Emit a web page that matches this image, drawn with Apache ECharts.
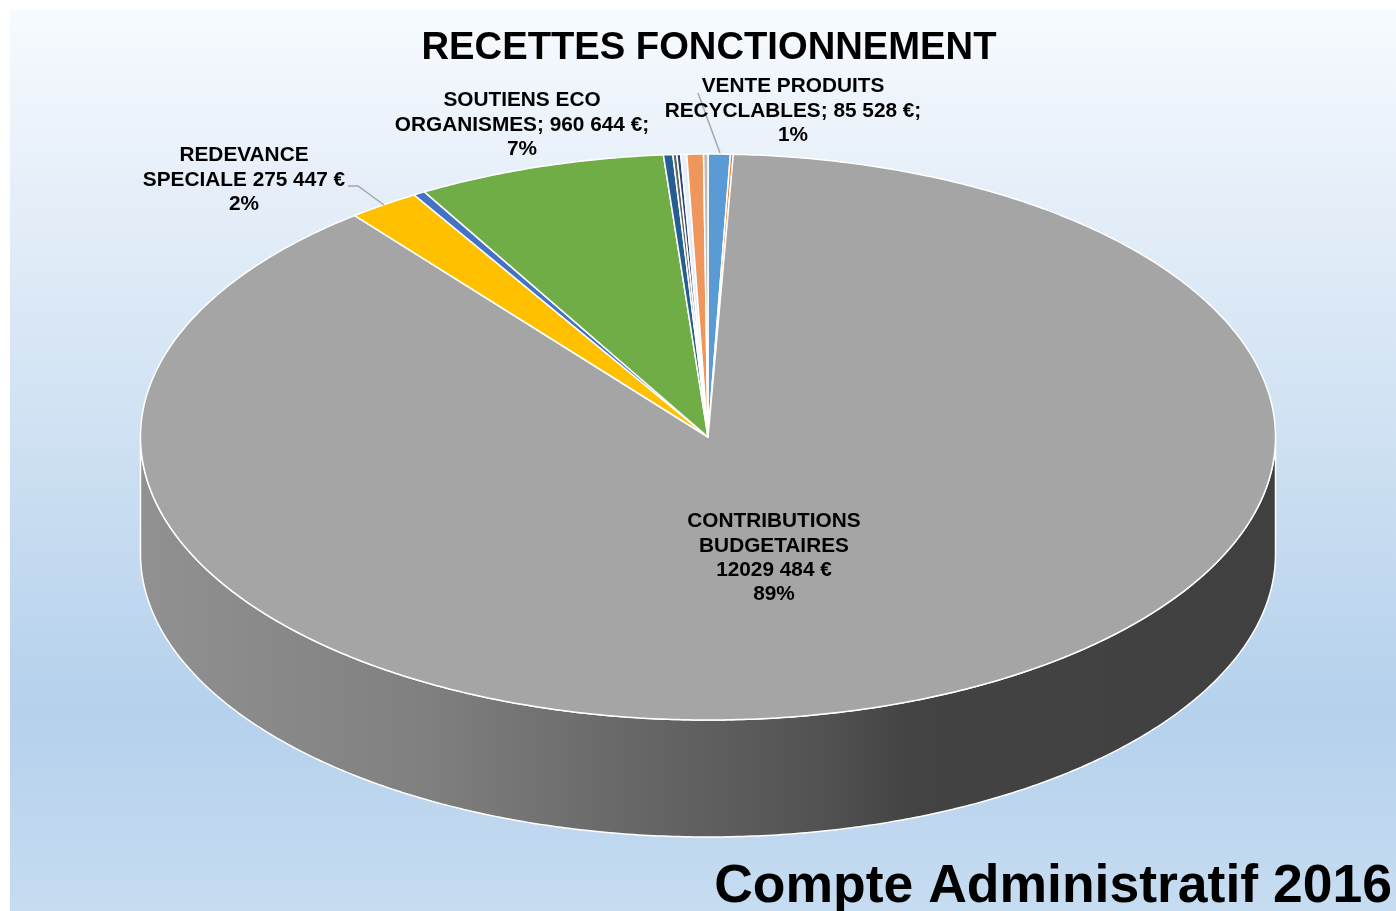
<!DOCTYPE html>
<html><head><meta charset="utf-8">
<style>html,body{margin:0;padding:0;background:#fff}#c{width:1396px;height:911px}</style>
<script src="https://cdn.jsdelivr.net/npm/echarts@6/dist/echarts.min.js"></script>
</head><body><div id="c"></div>
<script>
const titleText = 'RECETTES FONCTIONNEMENT';
const footerText = 'Compte Administratif 2016';
const categories = ['VENTE PRODUITS RECYCLABLES','AUTRES 1','CONTRIBUTIONS BUDGETAIRES','REDEVANCE SPECIALE','AUTRES 2','SOUTIENS ECO ORGANISMES','AUTRES 3','AUTRES 4','AUTRES 5','AUTRES 6','AUTRES 7','AUTRES 8'];
const values = [85528, 11000, 12029484, 275447, 46000, 960644, 36000, 15000, 15000, 23000, 64000, 17000];
const colors = ['#5b9bd5','#ed7d31','#a5a5a5','#ffc000','#4472c4','#70ad47','#255e91','#636363','#264478','#e6eef8','#ee965c','#bcbcbc'];
const labelVente = 'VENTE PRODUITS\nRECYCLABLES; 85 528 €;\n1%';
const labelSoutiens = 'SOUTIENS ECO\nORGANISMES; 960 644 €;\n7%';
const labelRedevance = 'REDEVANCE\nSPECIALE 275 447 €\n2%';
const labelContrib = 'CONTRIBUTIONS\nBUDGETAIRES\n12029 484 €\n89%';

const total = values.reduce((a,b)=>a+b,0);
let acc = 0;
const sliceData = values.map(v=>{const s=acc/total*360; acc+=v; return [s,acc/total*360,v];});
const DEPTH = 0.4134;
const rad = d=>d*Math.PI/180;
function arc(from,to){const n=Math.max(2,Math.ceil(Math.abs(to-from)*2));const p=[];for(let i=0;i<=n;i++){const t=rad(from+(to-from)*i/n);p.push([Math.sin(t),Math.cos(t)]);}return p;}

const chart = echarts.init(document.getElementById('c'),null,{renderer:'canvas'});
function label(text,x,y){return {type:'text',x:x,y:y,z:20,style:{text:text,fill:'#000',font:'bold 20.8px "Liberation Sans"',align:'center',verticalAlign:'top',lineHeight:24.3}};}
chart.setOption({
  animation:false,
  title:{text:titleText,left:704,top:24,textAlign:'center',textStyle:{fontFamily:'Liberation Sans',fontWeight:'bold',fontSize:38.2,color:'#000'}},
  grid:{left:140.5,width:1135,top:154,height:707.5},
  xAxis:{type:'value',min:-1,max:1,show:false},
  yAxis:{type:'value',min:-1.5,max:1,show:false},
  series:[
    {type:'custom',z:2,silent:true,clip:false,data:[[0,0]],encode:{x:0,y:1},
     renderItem:(p,api)=>{
       const top=arc(90,270).map(q=>api.coord(q));
       const bot=arc(270,90).map(q=>api.coord([q[0],q[1]-DEPTH]));
       return {type:'polygon',shape:{points:top.concat(bot)},style:{
         fill:new echarts.graphic.LinearGradient(0,0,1,0,[
           {offset:0,color:'#919191'},{offset:0.25,color:'#808080'},{offset:0.42,color:'#696969'},
           {offset:0.6,color:'#525252'},{offset:0.68,color:'#434343'},{offset:1,color:'#404040'}]),
         stroke:'#fff',lineWidth:1.5}};
     }},
    {type:'custom',z:3,silent:true,clip:false,data:sliceData,encode:{x:0,y:1},
     renderItem:(p,api)=>{
       const s=api.value(0),e=api.value(1);
       const pts=[api.coord([0,0])].concat(arc(s,e).map(q=>api.coord(q)));
       return {type:'polygon',shape:{points:pts},style:{fill:colors[p.dataIndex],stroke:'#fff',lineWidth:1.5,lineJoin:'round'}};
     }}
  ],
  graphic:{elements:[
    {type:'rect',z:-10,shape:{x:10,y:10,width:1386,height:901},style:{fill:new echarts.graphic.LinearGradient(0,0,0,1,[
      {offset:0,color:'#f7fbff'},{offset:0.1,color:'#eef4fb'},{offset:0.78,color:'#b5d1ec'},{offset:1,color:'#c6dcf1'}])}},
    {type:'polyline',z:15,shape:{points:[[698,93],[720,153]]},style:{stroke:'#a6a6a6',lineWidth:1.5,fill:'none'}},
    {type:'polyline',z:15,shape:{points:[[348,186],[358,186],[384,205]]},style:{stroke:'#a6a6a6',lineWidth:1.5,fill:'none'}},
    label(labelVente,793,74.5),
    label(labelSoutiens,522,88.5),
    label(labelRedevance,244,143.5),
    label(labelContrib,774,509.5),
    {type:'text',z:20,x:1392,y:860,style:{text:footerText,fill:'#000',font:'bold 53.5px "Liberation Sans"',align:'right',verticalAlign:'top'}}
  ]}
});
</script></body></html>
